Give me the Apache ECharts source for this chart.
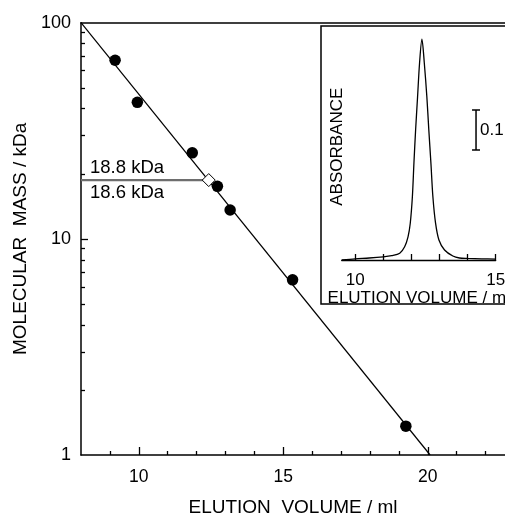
<!DOCTYPE html>
<html>
<head>
<meta charset="utf-8">
<script src="https://cdn.jsdelivr.net/npm/echarts@6/dist/echarts.min.js"></script>
<style>
  html, body { margin: 0; padding: 0; background: #fff; }
  #main { width: 505px; height: 517px; }
</style>
</head>
<body>
<div id="main"></div>
<script>
// calibration standards: elution volume (ml) vs molecular mass (kDa)
var stdVolume = [9.18, 9.95, 11.85, 12.72, 13.16, 15.32, 19.24];
var stdMass = [67.0, 42.8, 25.0, 17.5, 13.6, 6.46, 1.36];

// fitted calibration line (two end points)
var fitVolume = [8.0, 20.08];
var fitMass = [100, 1];

// sample: elution volume and mass
var sampleVolume = 12.42;
var sampleMass = 18.7;
var sampleLabels = ['18.8 kDa', '18.6 kDa'];

// inset chromatogram: elution volume (ml) vs absorbance
var peakVolume = [9.52, 10.0, 10.5, 11.0, 11.3, 11.585, 11.76, 11.88, 11.96, 12.035, 12.09, 12.15, 12.22, 12.29, 12.375,
  12.46, 12.55, 12.62, 12.695, 12.765, 12.86, 12.98, 13.18, 13.475, 13.71, 14.0, 14.5, 15.0];
var peakAbs = [0.0, 0.003, 0.005, 0.008, 0.011, 0.017, 0.033, 0.058, 0.092, 0.158, 0.242, 0.325, 0.408, 0.492, 0.552,
  0.492, 0.408, 0.325, 0.242, 0.158, 0.092, 0.05, 0.025, 0.01, 0.005, 0.004, 0.003, 0.002];
var scaleBar = [14.30, 0.275, 0.375, '0.1'];

// tick positions
var xMajor = [10, 15, 20];
var xMinor = [9, 11, 12, 13, 14, 16, 17, 18, 19, 21, 22];
var yLabels = [1, 10, 100];
var yMinor = [2, 3, 4, 5, 6, 7, 8, 9, 20, 30, 40, 50, 60, 70, 80, 90];
var insetTicks = [10, 11, 12, 13, 14, 15];
var insetLabels = [10, 15];

var FONT = '"Liberation Sans", Arial, sans-serif';

var myChart = echarts.init(document.getElementById('main'), null, { renderer: 'canvas' });

function zip(a, b) {
  return a.map(function (v, i) { return [v, b[i]]; });
}

var option = {
  animation: false,
  backgroundColor: '#fff',
  textStyle: { fontFamily: FONT, color: '#000' },
  grid: [
    { left: 81, top: 22.7, right: 0, bottom: 62, outerBoundsMode: 'none' },
    { left: 341.7, top: 27, right: 9.3, bottom: 257, outerBoundsMode: 'none' }
  ],
  xAxis: [
    {
      type: 'value', gridIndex: 0, min: 8, max: 22.67,
      axisLine: { lineStyle: { color: '#000', width: 1.5 } },
      axisTick: { inside: true, length: 4, customValues: xMinor, lineStyle: { color: '#000', width: 1.3 } },
      axisLabel: { customValues: xMajor, margin: 13, fontSize: 17.5, color: '#000', fontFamily: FONT },
      splitLine: { show: false },
      name: 'ELUTION  VOLUME / ml', nameLocation: 'middle', nameGap: 43,
      nameTextStyle: { fontSize: 19, color: '#000', fontFamily: FONT }
    },
    {
      type: 'value', gridIndex: 0, min: 8, max: 22.67, position: 'bottom',
      axisLine: { show: false },
      axisTick: { inside: true, length: 8, customValues: xMajor, lineStyle: { color: '#000', width: 1.3 } },
      axisLabel: { show: false },
      splitLine: { show: false }
    },
    {
      type: 'value', gridIndex: 0, min: 8, max: 22.67, position: 'top',
      axisLine: { lineStyle: { color: '#000', width: 1.5 } },
      axisTick: { show: false }, axisLabel: { show: false }, splitLine: { show: false }
    },
    {
      type: 'value', gridIndex: 1, min: 9.52, max: 15,
      axisLine: { lineStyle: { color: '#000', width: 1.3 } },
      axisTick: { inside: true, length: 6, customValues: insetTicks, lineStyle: { color: '#000', width: 1.3 } },
      axisLabel: { customValues: insetLabels, margin: 12, fontSize: 17, color: '#000', fontFamily: FONT },
      splitLine: { show: false },
      name: 'ELUTION VOLUME / ml', nameLocation: 'middle', nameGap: 24,
      nameTextStyle: { fontSize: 17, color: '#000', fontFamily: FONT }
    }
  ],
  yAxis: [
    {
      type: 'log', logBase: 10, gridIndex: 0, min: 1, max: 100,
      axisLine: { show: true, lineStyle: { color: '#000', width: 1.5 } },
      axisTick: { show: true, inside: true, length: 4, customValues: yMinor, lineStyle: { color: '#000', width: 1.3 } },
      axisLabel: { customValues: yLabels, margin: 10, fontSize: 18, color: '#000', fontFamily: FONT },
      splitLine: { show: false },
      name: 'MOLECULAR  MASS / kDa', nameLocation: 'middle', nameGap: 47, nameRotate: 90,
      nameTextStyle: { fontSize: 19, color: '#000', fontFamily: FONT }
    },
    {
      type: 'log', logBase: 10, gridIndex: 0, min: 1, max: 100, position: 'left',
      axisLine: { show: false },
      axisTick: { show: true, inside: true, length: 7, customValues: [10], lineStyle: { color: '#000', width: 1.3 } },
      axisLabel: { show: false },
      splitLine: { show: false }
    },
    {
      type: 'value', gridIndex: 1, min: 0, max: 0.5825, show: false
    }
  ],
  graphic: [
    {
      type: 'rect', z: 10,
      shape: { x: 321, y: 26, width: 220, height: 278 },
      style: { fill: 'none', stroke: '#000', lineWidth: 1.5 }
    },
    {
      type: 'text', z: 10, x: 337.5, y: 146.7, rotation: Math.PI / 2,
      style: { text: 'ABSORBANCE', font: '17px ' + FONT, fill: '#000', align: 'center', verticalAlign: 'middle' }
    }
  ],
  series: [
    {
      name: 'fit', type: 'line', xAxisIndex: 0, yAxisIndex: 0,
      data: zip(fitVolume, fitMass), symbol: 'none',
      lineStyle: { color: '#000', width: 1.2 }, z: 2
    },
    {
      name: 'sample level', type: 'line', xAxisIndex: 0, yAxisIndex: 0,
      data: [[8, sampleMass], [sampleVolume, sampleMass]], symbol: 'none',
      lineStyle: { color: '#6e6e6e', width: 2.2 }, z: 2
    },
    {
      name: 'standards', type: 'scatter', xAxisIndex: 0, yAxisIndex: 0,
      data: zip(stdVolume, stdMass), symbol: 'circle', symbolSize: 11.5,
      itemStyle: { color: '#000', opacity: 1 }, z: 4
    },
    {
      name: 'sample', type: 'scatter', xAxisIndex: 0, yAxisIndex: 0,
      data: [[sampleVolume, sampleMass]], symbol: 'diamond', symbolSize: 13,
      itemStyle: { color: '#fff', borderColor: '#000', borderWidth: 1, opacity: 1 }, z: 3
    },
    {
      name: 'peak', type: 'line', xAxisIndex: 3, yAxisIndex: 2,
      data: zip(peakVolume, peakAbs), symbol: 'none', smooth: 0.3,
      lineStyle: { color: '#000', width: 1.3 }, z: 5
    },
    {
      name: 'scale', type: 'custom', xAxisIndex: 3, yAxisIndex: 2,
      data: [scaleBar], z: 5,
      renderItem: function (params, api) {
        var lo = api.coord([api.value(0), api.value(1)]);
        var hi = api.coord([api.value(0), api.value(2)]);
        var st = { stroke: '#000', lineWidth: 1.5 };
        return {
          type: 'group',
          children: [
            { type: 'line', shape: { x1: lo[0], y1: lo[1], x2: hi[0], y2: hi[1] }, style: st },
            { type: 'line', shape: { x1: lo[0] - 4, y1: lo[1], x2: lo[0] + 4, y2: lo[1] }, style: st },
            { type: 'line', shape: { x1: hi[0] - 4, y1: hi[1], x2: hi[0] + 4, y2: hi[1] }, style: st },
            {
              type: 'text', x: lo[0] + 4, y: (lo[1] + hi[1]) / 2,
              style: { text: scaleBar[3], font: '17px ' + FONT, fill: '#000', verticalAlign: 'middle' }
            }
          ]
        };
      }
    }
  ]
};

// sample mass annotations above and below the grey line
option.graphic.push(
  { type: 'text', z: 10, x: 90, y: 167.5, style: { text: sampleLabels[0], font: '18.5px ' + FONT, fill: '#000', verticalAlign: 'middle' } },
  { type: 'text', z: 10, x: 90, y: 193, style: { text: sampleLabels[1], font: '18.5px ' + FONT, fill: '#000', verticalAlign: 'middle' } }
);

myChart.setOption(option);
</script>
</body>
</html>
